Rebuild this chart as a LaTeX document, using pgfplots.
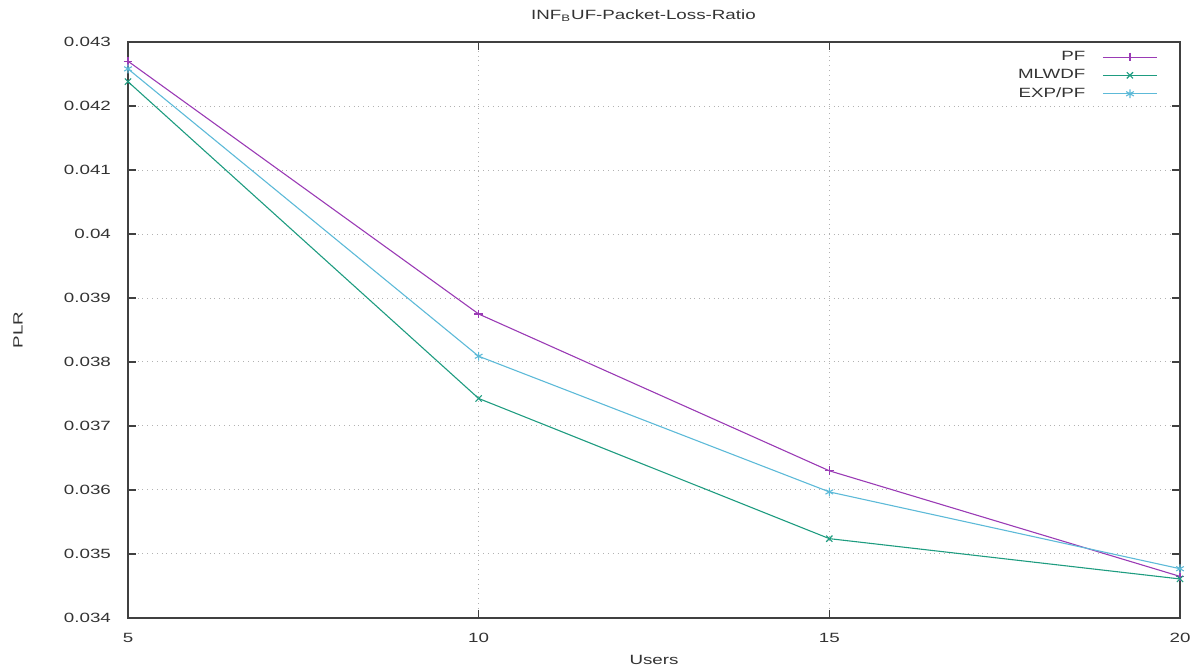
\documentclass[border=0pt]{standalone}
\usepackage{fontspec}
\setmainfont{Liberation Sans}[FakeStretch=1.4]
\usepackage{pgfplots}
\pgfplotsset{compat=1.18}
\definecolor{cPF}{HTML}{9A3BB5}
\definecolor{cML}{HTML}{1E9C80}
\definecolor{cEX}{HTML}{5DBAD8}
\begin{document}
\begin{tikzpicture}
\useasboundingbox (0,0) rectangle (597pt,334pt);
\begin{axis}[
  at={(64pt,25pt)}, anchor=south west,
  scale only axis, width=526pt, height=288pt,
  xmin=5, xmax=20, ymin=0.034, ymax=0.043,
  xtick={5,10,15,20},
  ytick={0.034,0.035,0.036,0.037,0.038,0.039,0.04,0.041,0.042,0.043},
  scaled y ticks=false,
  yticklabel style={/pgf/number format/fixed,/pgf/number format/precision=3, xshift=-5pt},
  xticklabel style={yshift=-4pt},
  /pgf/number format/assume math mode=true,
  tick align=inside, major tick length=4pt,
  tick style={black!75, line width=0.6pt},
  axis line style={black!75, line width=0.8pt},
  grid=major,
  major grid style={gray!60, dotted, line width=0.5pt},
  font=\fontsize{6.7pt}{8pt}\selectfont,
  ticklabel style={text=black!80},
  title={INF\textsubscript{B}UF-Packet-Loss-Ratio},
  title style={at={(axis description cs:0.49,1.047)}, anchor=center, yshift=-6.5pt, text=black!80},
  xlabel={Users},
  xlabel style={at={(axis description cs:0.5,-0.0729)}, anchor=center, text=black!80},
  ylabel={PLR},
  ylabel style={at={(axis description cs:-0.1046,0.5)}, anchor=center, text=black!80},
  legend style={draw=none, fill=none, at={(axis description cs:0.9847,0.999)}, anchor=north east,
    legend cell align=right, row sep=-1pt, column sep=6.5pt, font=\fontsize{6.7pt}{8pt}\selectfont},
  legend plot pos=right,
  legend image code/.code={\draw[mark repeat=2,mark phase=2,#1] plot coordinates {(0pt,0pt) (13.5pt,0pt) (27pt,0pt)};},
]
\addplot[color=cPF, line width=0.55pt, mark=+, mark size=2.2pt] coordinates {
(5,0.04270) (10,0.03875) (15,0.03630) (20,0.03465)};
\addlegendentry{\textcolor{black!80}{PF}}
\addplot[color=cML, line width=0.55pt, mark=x, mark size=2.2pt] coordinates {
(5,0.04238) (10,0.03743) (15,0.03524) (20,0.03461)};
\addlegendentry{\textcolor{black!80}{MLWDF}}
\addplot[color=cEX, line width=0.55pt, mark=asterisk, mark size=2.2pt] coordinates {
(5,0.04258) (10,0.03809) (15,0.03597) (20,0.03477)};
\addlegendentry{\textcolor{black!80}{EXP/PF}}
\end{axis}
\end{tikzpicture}
\end{document}
